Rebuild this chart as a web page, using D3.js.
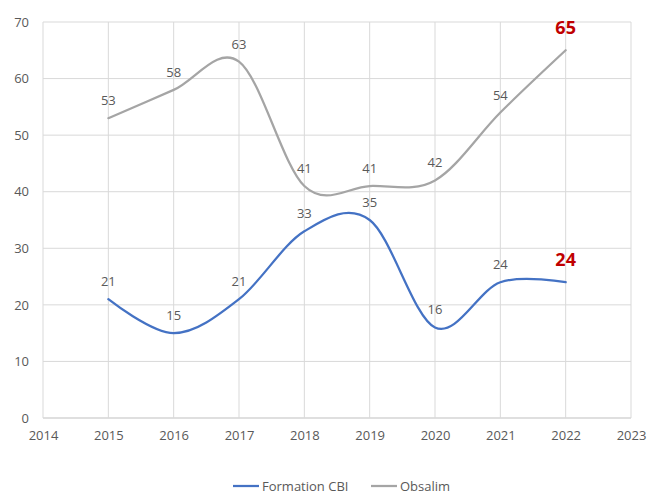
<!DOCTYPE html>
<html>
<head>
<meta charset="utf-8">
<script src="https://cdn.jsdelivr.net/npm/d3@7"></script>
<style>
  body { margin: 0; background: #fff; }
  text { font-family: "Open Sans", "Noto Sans", sans-serif; }
</style>
</head>
<body>
<script>
var years = [2015, 2016, 2017, 2018, 2019, 2020, 2021, 2022];
var formationCBI = [21, 15, 21, 33, 35, 16, 24, 24];
var obsalim = [53, 58, 63, 41, 41, 42, 54, 65];
var yTicks = [0, 10, 20, 30, 40, 50, 60, 70];
var xTicks = [2014, 2015, 2016, 2017, 2018, 2019, 2020, 2021, 2022, 2023];

var margin = {top: 22, bottom: 77, left: 43, right: 17};
var width = 648 - margin.left - margin.right;
var height = 495 - margin.top - margin.bottom;

var svg = d3.select("body")
            .append("svg")
            .attr("width", 648)
            .attr("height", 495);

var g = svg.append("g")
           .attr("transform", "translate(" + margin.left + "," + margin.top + ")");

var xScale = d3.scaleLinear().domain([2014, 2023]).range([0, width]);
var yScale = d3.scaleLinear().domain([0, 70]).range([height, 0]);

// gridlines
g.append("g").selectAll("line.h")
  .data(yTicks)
  .enter().append("line")
  .attr("x1", 0).attr("x2", width)
  .attr("y1", function(d){ return yScale(d); })
  .attr("y2", function(d){ return yScale(d); })
  .attr("stroke", function(d){ return d === 0 ? "#bfbfbf" : "#d9d9d9"; })
  .attr("stroke-width", 1);

g.append("g").selectAll("line.v")
  .data(xTicks)
  .enter().append("line")
  .attr("y1", 0).attr("y2", height)
  .attr("x1", function(d){ return xScale(d); })
  .attr("x2", function(d){ return xScale(d); })
  .attr("stroke", "#d9d9d9")
  .attr("stroke-width", 1);

// axes (labels only)
var yAxis = d3.axisLeft(yScale).tickValues(yTicks).tickSize(0).tickPadding(14);
var xAxis = d3.axisBottom(xScale).tickValues(xTicks).tickSize(0).tickPadding(13).tickFormat(d3.format("d"));

g.append("g").call(yAxis)
  .call(function(s){ s.select(".domain").remove(); })
  .selectAll("text").attr("fill", "#595959").style("font-size", "13px")
  .style("font-family", "'Open Sans', sans-serif");

g.append("g").attr("transform", "translate(0," + height + ")").call(xAxis)
  .call(function(s){ s.select(".domain").remove(); })
  .selectAll("text").attr("fill", "#595959").style("font-size", "13px")
  .style("font-family", "'Open Sans', sans-serif");

var line = d3.line()
  .x(function(d){ return xScale(d.year); })
  .y(function(d){ return yScale(d.value); })
  .curve(d3.curveCatmullRom.alpha(0));

var series = [
  {name: "Formation CBI", color: "#4472C4", values: formationCBI},
  {name: "Obsalim", color: "#A5A5A5", values: obsalim}
];

series.forEach(function(s){
  var pts = years.map(function(y, i){ return {year: y, value: s.values[i]}; });

  g.append("path")
    .datum(pts)
    .attr("d", line)
    .attr("fill", "none")
    .attr("stroke", s.color)
    .attr("stroke-width", 2.25)
    .attr("stroke-linecap", "round");

  g.selectAll(null)
    .data(pts)
    .enter().append("text")
    .attr("x", function(d){ return xScale(d.year); })
    .attr("y", function(d, i){ return yScale(d.value) - (i === pts.length - 1 ? 16 : 13); })
    .attr("text-anchor", "middle")
    .attr("fill", function(d, i){ return i === pts.length - 1 ? "#C00000" : "#595959"; })
    .style("font-size", function(d, i){ return i === pts.length - 1 ? "18px" : "13px"; })
    .style("font-weight", function(d, i){ return i === pts.length - 1 ? "bold" : "normal"; })
    .text(function(d){ return d.value; });
});

// legend
var legend = svg.append("g").attr("transform", "translate(0,486)");
var legendX = [233, 371];
series.forEach(function(s, i){
  legend.append("line")
    .attr("x1", legendX[i]).attr("x2", legendX[i] + 26)
    .attr("y1", 0).attr("y2", 0)
    .attr("stroke", s.color)
    .attr("stroke-width", 2.25);
  legend.append("text")
    .attr("x", legendX[i] + 29)
    .attr("y", 4.5)
    .attr("fill", "#595959")
    .style("font-size", "13px")
    .text(s.name);
});
</script>
</body>
</html>
